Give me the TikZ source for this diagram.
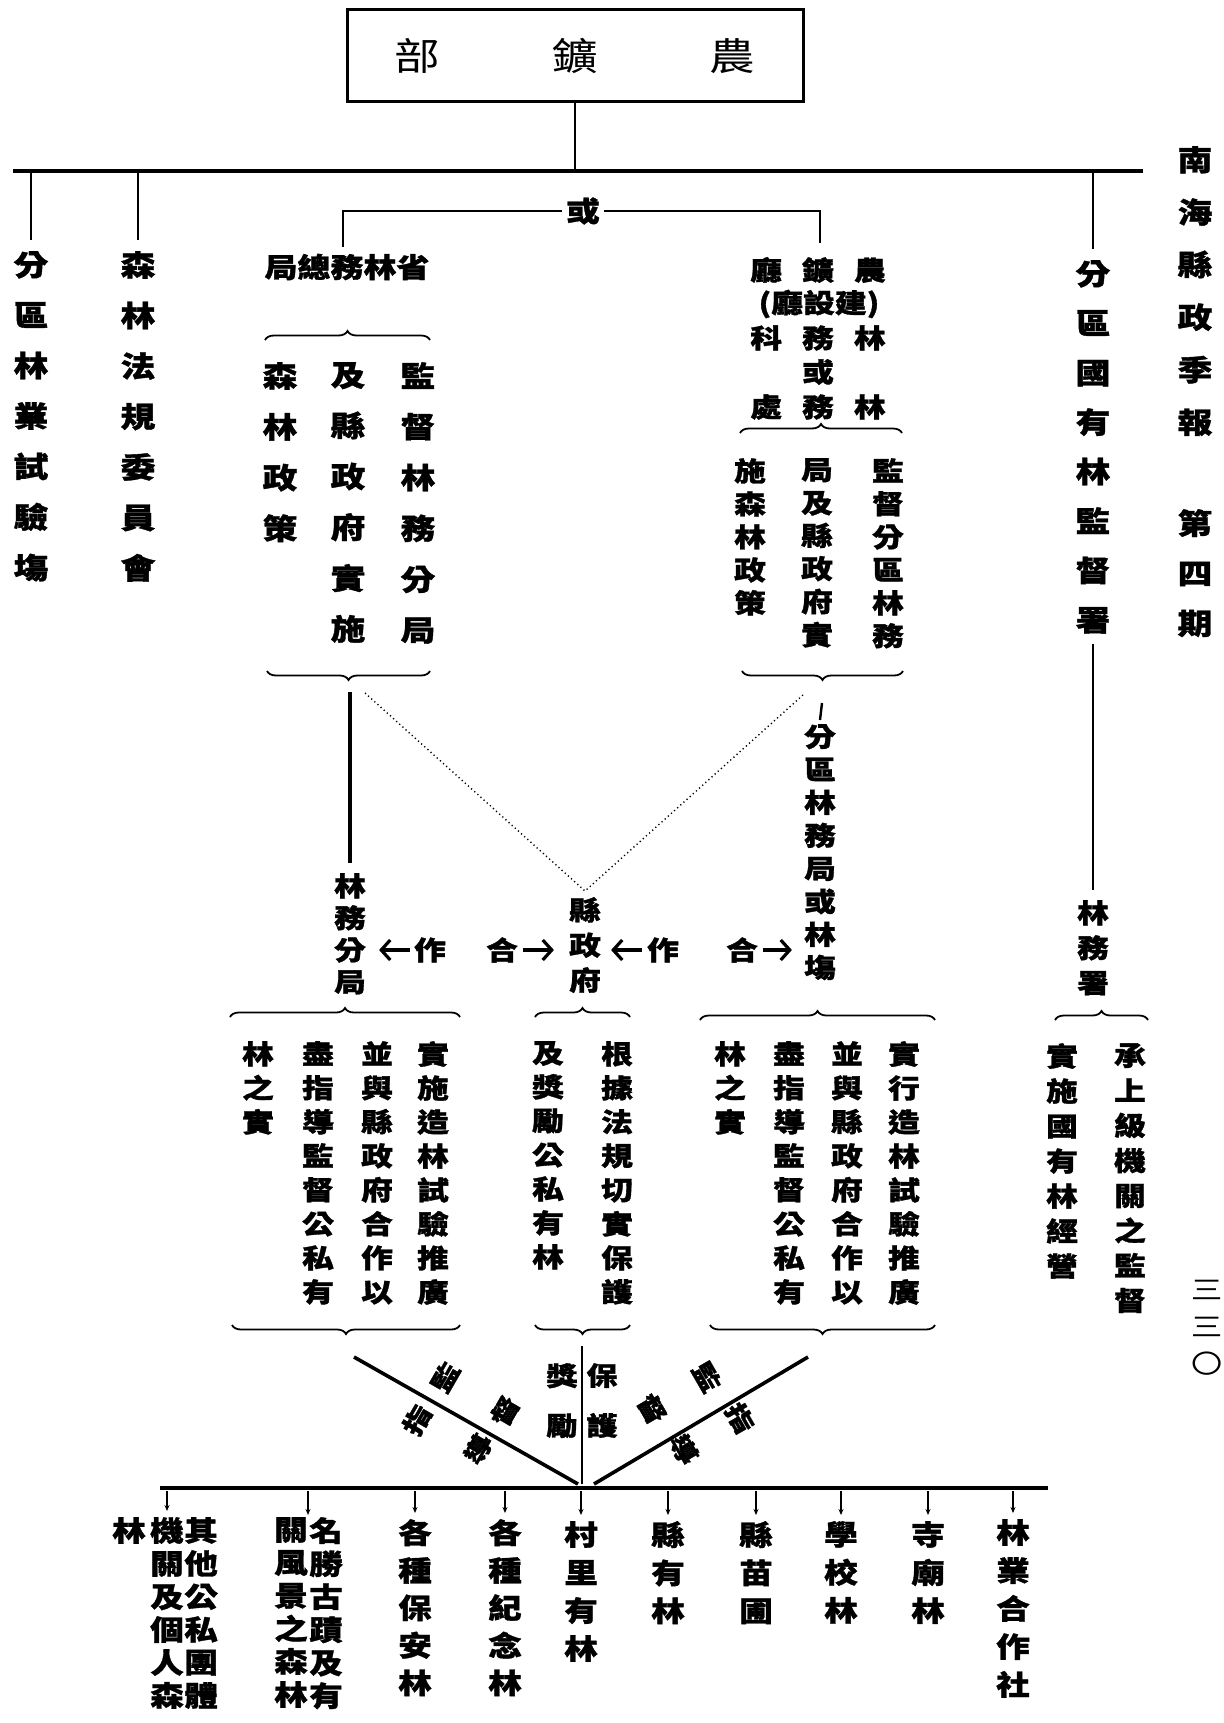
\documentclass[tikz,border=0pt]{standalone}
\usepackage{fontspec}
\newfontfamily\cjk{Noto Sans CJK TC}[FakeStretch=1.2, BoldFeatures={FakeBold=1.2}]
\usetikzlibrary{decorations.pathreplacing,arrows.meta,calc}
\newcommand{\cb}{\cjk\bfseries}
\tikzset{
  every node/.style={inner sep=0pt},
  vt/.style 2 args={align=center, anchor=north, font=\cb\fontsize{#1}{#2}\selectfont},
  ht/.style={font=\cb\fontsize{#1}{#1}\selectfont},
  curly/.style={decorate, decoration={brace, amplitude=9pt}, line width=1.8pt},
  conn/.style={line width=2.4pt},
  heavy/.style={line width=3.6pt},
  dots/.style={line width=1.4pt, dash pattern=on 1.2pt off 3pt},
  arr/.style={line width=3.2pt, -{Straight Barb[length=9pt,width=20pt,line width=3.2pt]}},
  tk/.style={line width=1.6pt, -{Stealth[length=6pt,width=5pt]}},
}
\begin{document}
\begin{tikzpicture}[x=1pt,y=-1pt]
\path[use as bounding box, fill=white] (0,0) rectangle (1223,1723);

% ---- top box
\node[draw, line width=3pt, minimum width=456pt, minimum height=92pt,
      font=\cjk\fontsize{38}{38}\selectfont] (top) at (575,56)
      {部\hspace{112pt}鑛\hspace{112pt}農};
\coordinate (ml) at (13,171);
\coordinate (mr) at (1143,171);
\draw[heavy] (ml) -- (mr);
\draw[conn] (top.south) -- (top.south |- ml);

% ---- left columns
\node[vt={29}{50.5}] (c1) at (31,251) {分\\區\\林\\業\\試\\驗\\塲};
\node[vt={29}{50.5}] (c2) at (138,251) {森\\林\\法\\規\\委\\員\\會};
\draw[conn] (c1.north |- ml) -- ([yshift=11pt]c1.north);
\draw[conn] (c2.north |- ml) -- ([yshift=11pt]c2.north);

% ---- right column
\node[vt={29}{49.5}] (c3) at (1093,260) {分\\區\\國\\有\\林\\監\\督\\署};
\draw[conn] (c3.north |- ml) -- ([yshift=11pt]c3.north);
\node[vt={26.5}{35}] (c4) at (1093,900) {林\\務\\署};
\draw[conn] ([yshift=-10pt]c3.south) -- ([yshift=10pt]c4.north);

% ---- journal title and page
\node[vt={29}{52.5}] (jt) at (1195,146) {南\\海\\縣\\政\\季\\報};
\node[vt={29}{50}] (qi) at (1195,509) {第\\四\\期};
\node[align=center, anchor=north, font=\cjk\fontsize{26}{37}\selectfont] (pg) at (1207,1280) {三\\三\\〇};

% ---- 省林務總局 and right upper rows
\node[ht={27.5}] (sheng) at (347,267) {局總務林省};
\node[ht={26.5}] (r1) at (818,270) {廳\hspace{20pt}鑛\hspace{20pt}農};
\node[ht={26.5}] (r2) at (819,304) {(廳設建)};
\node[ht={26.5}] (r3) at (818,338) {科\hspace{20pt}務\hspace{20pt}林};
\node[ht={26.5}] (r4) at (818,372) {或};
\node[ht={26.5}] (r5) at (818,407) {處\hspace{20pt}務\hspace{20pt}林};

\coordinate (orL) at (343,211);
\coordinate (orR) at (820,211);
\coordinate (orLd) at (343,247);
\coordinate (orRd) at (820,243);
\draw[conn] (orLd) -- (orL) -- (orR) -- (orRd);
\node[ht={28}, fill=white, inner sep=4pt] (or) at (583,211) {或};

% ---- left upper block
\draw[curly] (265,340) -- (430,340);
\node[vt={29}{50.8}] (la) at (418,362) {監\\督\\林\\務\\分\\局};
\node[vt={29}{50.8}] (lb) at (348,362) {及\\縣\\政\\府\\實\\施};
\node[vt={29}{50.8}] (lc) at (280,362) {森\\林\\政\\策};
\draw[curly] (430,671) -- (267,671);
\coordinate (lbt) at (350,692);
\node[vt={26.5}{32}] (lw) at (350,873) {林\\務\\分\\局};
\draw[heavy] (lbt) -- ([yshift=10pt]lw.north);

% ---- right upper block
\draw[curly] (740,433) -- (902,433);
\node[vt={26.5}{33}] (ra) at (888,458) {監\\督\\分\\區\\林\\務};
\node[vt={26.5}{33}] (rb) at (817,458) {局\\及\\縣\\政\\府\\實};
\node[vt={26.5}{33}] (rc) at (750,458) {施\\森\\林\\政\\策};
\draw[curly] (903,671) -- (742,671);
\coordinate (rbt) at (822,703);
\node[vt={26.5}{33}] (fq) at (820,724) {分\\區\\林\\務\\局\\或\\林\\塲};
\draw[conn] (rbt) -- ([yshift=4pt]fq.north);

% ---- cooperation row
\node[ht={26.5}] (zuo1) at (430,950) {作};
\node[ht={26.5}] (he1) at (502,950) {合};
\node[vt={26.5}{35}] (xf) at (585,897) {縣\\政\\府};
\node[ht={26.5}] (zuo2) at (663,950) {作};
\node[ht={26.5}] (he2) at (742,950) {合};
\draw[arr, shorten <=4pt, shorten >=13pt] (zuo1.west) -- (zuo1.west -| lw.east);
\draw[arr, shorten <=5pt, shorten >=15pt] (he1.east) -- (he1.east -| xf.west);
\draw[arr, shorten <=5pt, shorten >=10pt] (zuo2.west) -- (zuo2.west -| xf.east);
\draw[arr, shorten <=5pt, shorten >=12pt] (he2.east) -- (he2.east -| fq.west);

% dotted links
\coordinate (d1) at (365,693);
\coordinate (d2) at (803,695);
\draw[dots] (d1) -- ([yshift=6pt]xf.north) -- (d2);

% ---- far right block
\draw[curly] (1055,1020) -- (1148,1020);
\node[vt={26.5}{35}] (sa) at (1130,1043) {承\\上\\級\\機\\關\\之\\監\\督};
\node[vt={26.5}{35}] (sb) at (1062,1043) {實\\施\\國\\有\\林\\經\\營};

% ---- middle blocks
\draw[curly] (230,1017) -- (460,1017);
\node[vt={26.5}{34}] (m1) at (433,1041) {實\\施\\造\\林\\試\\驗\\推\\廣};
\node[vt={26.5}{34}] (m2) at (377,1041) {並\\與\\縣\\政\\府\\合\\作\\以};
\node[vt={26.5}{34}] (m3) at (318,1041) {盡\\指\\導\\監\\督\\公\\私\\有};
\node[vt={26.5}{34}] (m4) at (258,1041) {林\\之\\實};
\draw[curly] (460,1325) -- (232,1325);

\draw[curly] (535,1017) -- (630,1017);
\node[vt={26.5}{34}] (n1) at (617,1041) {根\\據\\法\\規\\切\\實\\保\\護};
\node[vt={26.5}{34}] (n2) at (548,1041) {及\\獎\\勵\\公\\私\\有\\林};
\draw[curly] (630,1325) -- (535,1325);

\draw[curly] (700,1020) -- (935,1020);
\node[vt={26.5}{34}] (p1) at (904,1041) {實\\行\\造\\林\\試\\驗\\推\\廣};
\node[vt={26.5}{34}] (p2) at (847,1041) {並\\與\\縣\\政\\府\\合\\作\\以};
\node[vt={26.5}{34}] (p3) at (789,1041) {盡\\指\\導\\監\\督\\公\\私\\有};
\node[vt={26.5}{34}] (p4) at (730,1041) {林\\之\\實};
\draw[curly] (935,1325) -- (710,1325);

% ---- V
\coordinate (va) at (354,1357);
\coordinate (vb) at (808,1357);
\coordinate (vc) at (582,1346);
\coordinate (bl) at (160,1488);
\coordinate (br) at (1048,1488);
\coordinate (vL) at (578,1484);
\coordinate (vR) at (594,1484);
\coordinate (vM) at (582,1484);
\draw[heavy] (va) -- (vL);
\draw[heavy] (vb) -- (vR);
\draw[conn] (vc) -- (vM);
\node[ht={25}, rotate=60] (l1) at (445,1377) {監};
\node[ht={25}, rotate=60] (l2) at (505,1411) {督};
\node[ht={25}, rotate=60] (l3) at (417,1420) {指};
\node[ht={25}, rotate=60] (l4) at (478,1449) {導};
\node[ht={25}, rotate=-60] (q1) at (707,1377) {監};
\node[ht={25}, rotate=-60] (q2) at (652,1409) {督};
\node[ht={25}, rotate=-60] (q3) at (740,1418) {指};
\node[ht={25}, rotate=-60] (q4) at (684,1449) {導};
\node[vt={26}{50}] (jl) at (562,1363) {獎\\勵};
\node[vt={26}{50}] (bh) at (602,1363) {保\\護};

% ---- bottom line and targets
\draw[heavy] (bl) -- (br);
\node[vt={28}{33}] (bA1) at (201,1517) {其\\他\\公\\私\\團\\體};
\node[vt={28}{33}] (bA2) at (167,1517) {機\\關\\及\\個\\人\\森};
\node[vt={28}{33}] (bA3) at (129,1517) {林};
\node[vt={28}{33}] (bB1) at (326,1517) {名\\勝\\古\\蹟\\及\\有};
\node[vt={28}{33}] (bB2) at (291,1517) {關\\風\\景\\之\\森\\林};
\node[vt={28}{37.5}] (bC) at (415,1519) {各\\種\\保\\安\\林};
\node[vt={28}{37.5}] (bD) at (505,1519) {各\\種\\紀\\念\\林};
\node[vt={28}{38}] (bE) at (581,1521) {村\\里\\有\\林};
\node[vt={28}{38}] (bF) at (668,1521) {縣\\有\\林};
\node[vt={28}{38}] (bG) at (756,1521) {縣\\苗\\圃};
\node[vt={28}{38}] (bH) at (841,1521) {學\\校\\林};
\node[vt={28}{38}] (bI) at (928,1521) {寺\\廟\\林};
\node[vt={28}{38}] (bJ) at (1013,1519) {林\\業\\合\\作\\社};
\coordinate (bBt) at (308,1521);
\foreach \n in {bA2,bBt,bC,bD,bE,bF,bG,bH,bI,bJ}
  \draw[tk, shorten <=3pt] (\n.north |- bl) -- ([yshift=6pt]\n.north);
\end{tikzpicture}
\end{document}
